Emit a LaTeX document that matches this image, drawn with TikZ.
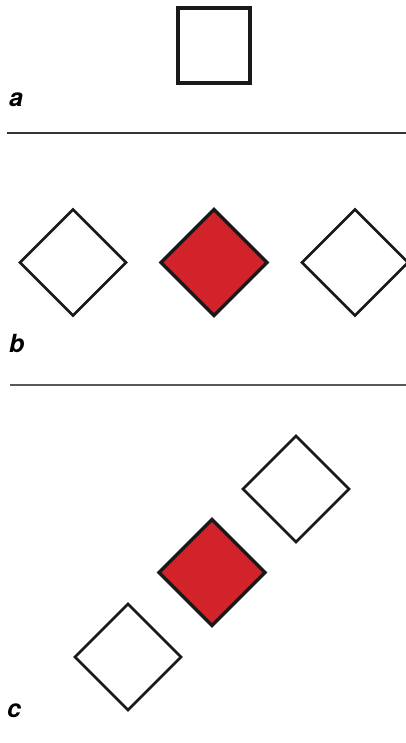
\documentclass[tikz,border=0pt]{standalone}
\usepackage{fontspec}
\setmainfont{TeX Gyre Heros}
\definecolor{dred}{HTML}{D2232A}
\begin{document}
\begin{tikzpicture}[x=1pt,y=-1pt,
  sq/.style={draw=black!90,line width=2.8pt,fill=white},
  redsq/.style={draw=black!90,line width=3.3pt,fill=dred},
  lbl/.style={anchor=base west,inner sep=0pt,font=\fontsize{25}{25}\selectfont\bfseries\itshape},
  sep/.style={line width=1.6pt}]
\useasboundingbox (0,0) rectangle (406,743);
% a
\draw[sq,line width=3.8pt] (178,8) rectangle (250,83);
\node[lbl] (la) at (9,107) {a};
\draw[sep,draw=black!80] (7,133) -- (406,133);
% b
\begin{scope}
\clip (0,0) rectangle (406,743);
\draw[sq] (20,262.5) -- (73,209.5) -- (126,262.5) -- (73,315.5) -- cycle;
\draw[redsq] (161,262.5) -- (214,209.5) -- (267,262.5) -- (214,315.5) -- cycle;
\draw[sq] (302,262.5) -- (355,209.5) -- (408,262.5) -- (355,315.5) -- cycle;
\end{scope}
\node[lbl] (lb) at (9,352) {b};
\draw[sep,line width=2pt,draw=black!65] (10,384.5) -- (406,384.5);
% c
\draw[sq] (243,489) -- (296,436) -- (349,489) -- (296,542) -- cycle;
\draw[redsq] (159,572.5) -- (212,519.5) -- (265,572.5) -- (212,625.5) -- cycle;
\draw[sq] (75,657) -- (128,604) -- (181,657) -- (128,710) -- cycle;
\node[lbl] (lc) at (7,717.5) {c};
\end{tikzpicture}
\end{document}
